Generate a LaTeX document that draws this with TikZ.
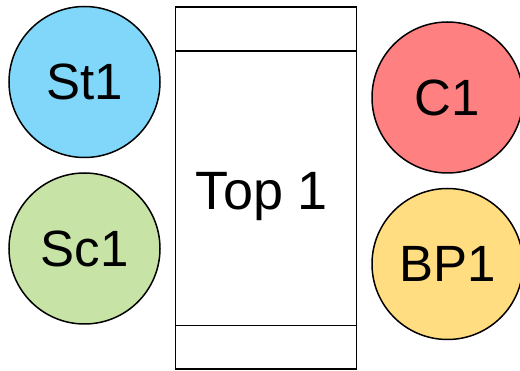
\documentclass[tikz,border=0pt]{standalone}
\usepackage{fontspec}
\setmainfont{Liberation Sans}
\usetikzlibrary{calc}
\definecolor{stblue}{RGB}{129,215,249}
\definecolor{scgreen}{RGB}{199,227,166}
\definecolor{cred}{RGB}{255,128,128}
\definecolor{bpyellow}{RGB}{255,221,128}
\tikzset{
  circ/.style={circle, draw=black, line width=1.5pt, minimum size=151pt, inner sep=0pt, font=\fontsize{51}{58}\selectfont},
  box/.style={draw=black, line width=1.5pt, minimum width=181pt, minimum height=362pt, inner sep=0pt},
  divider/.style={line width=1.5pt}
}
\begin{document}
\begin{tikzpicture}[x=1pt,y=-1pt]
\useasboundingbox (0,0) rectangle (520,371);
\node[circ, fill=stblue] (st1) at (84.5,82) {\raisebox{-1.5pt}{St1}};
\node[circ, fill=scgreen] (sc1) at (84.5,248.5) {\raisebox{-1.5pt}{Sc1}};
\node[circ, fill=cred] (c1) at (447.5,97.5) {\raisebox{-2.5pt}{C1}};
\node[circ, fill=bpyellow] (bp1) at (447.5,264) {\raisebox{-1.5pt}{BP1}};
\node[box] (top1) at (266,188) {};
\node[anchor=base, inner sep=0pt, font=\fontsize{54}{60}\selectfont] (toplabel) at (262,210) {Top 1};
\coordinate (tl) at ($(top1.north west)+(0,45)$);
\coordinate (tr) at ($(top1.north east)+(0,45)$);
\coordinate (bl) at ($(top1.south west)+(0,-44)$);
\coordinate (br) at ($(top1.south east)+(0,-44)$);
\draw[divider] (tl) -- (tr);
\draw[divider] (bl) -- (br);
\end{tikzpicture}
\end{document}
